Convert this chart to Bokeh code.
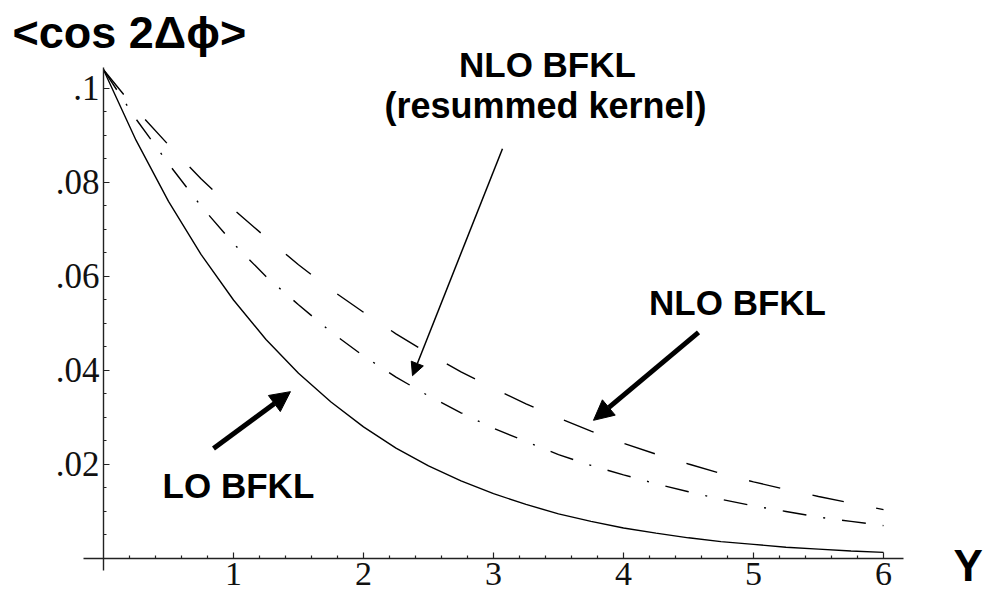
from bokeh.plotting import figure
from bokeh.models import FixedTicker, Label, Arrow, NormalHead, Range1d, LinearAxis
from bokeh.embed import file_html
from bokeh.resources import INLINE

# ---- data ----
rapidity = [0.0, 0.25, 0.5, 0.75, 1.0, 1.25, 1.5, 1.75, 2.0, 2.25, 2.5, 2.75, 3.0,
            3.25, 3.5, 3.75, 4.0, 4.25, 4.5, 4.75, 5.0, 5.25, 5.5, 5.75, 6.0]
lo_bfkl = [0.1040, 0.0890, 0.0760, 0.0647, 0.0550, 0.0466, 0.0394, 0.0333, 0.0280,
           0.0235, 0.0197, 0.0165, 0.0138, 0.0115, 0.0095, 0.0079, 0.0065, 0.0054,
           0.0044, 0.0036, 0.0030, 0.0024, 0.0020, 0.0016, 0.0013]
nlo_bfkl = [0.1040, 0.0955, 0.0880, 0.0808, 0.0743, 0.0683, 0.0625, 0.0572, 0.0524,
            0.0478, 0.0436, 0.0397, 0.0362, 0.0329, 0.0299, 0.0271, 0.0245, 0.0222,
            0.0201, 0.0181, 0.0163, 0.0147, 0.0132, 0.0118, 0.0104]
nlo_resummed = [0.1040, 0.0935, 0.0840, 0.0750, 0.0670, 0.0600, 0.0540, 0.0482, 0.0431,
                0.0386, 0.0346, 0.0310, 0.0277, 0.0249, 0.0221, 0.0198, 0.0178, 0.0159,
                0.0142, 0.0126, 0.0112, 0.0100, 0.0088, 0.0079, 0.0070]

x_ticks = [1, 2, 3, 4, 5, 6]
x_minor_ticks = [0.2, 0.4, 0.6, 0.8, 1.2, 1.4, 1.6, 1.8, 2.2, 2.4, 2.6, 2.8,
                 3.2, 3.4, 3.6, 3.8, 4.2, 4.4, 4.6, 4.8, 5.2, 5.4, 5.6, 5.8]
y_ticks = [0.02, 0.04, 0.06, 0.08, 0.1]
y_tick_labels = [".02", ".04", ".06", ".08", ".1"]
y_minor_ticks = [0.005, 0.01, 0.015, 0.025, 0.03, 0.035, 0.045, 0.05, 0.055,
                 0.065, 0.07, 0.075, 0.085, 0.09, 0.095]

AX = "#222222"

# the frame fills the whole canvas; axes sit at the origin inside it
p = figure(width=983, height=593, output_backend="svg", toolbar_location=None,
           x_range=Range1d(-0.7923, 6.7692), y_range=Range1d(-0.007447, 0.118723),
           x_axis_location=None, y_axis_location=None,
           min_border_left=0, min_border_right=0, min_border_top=0, min_border_bottom=0)
p.grid.visible = False
p.outline_line_color = None
p.background_fill_color = "white"
p.border_fill_color = "white"

xaxis = LinearAxis(fixed_location=0, bounds=(-0.154, 6.154),
                   ticker=FixedTicker(ticks=x_ticks, minor_ticks=x_minor_ticks))
yaxis = LinearAxis(fixed_location=0, bounds=(-0.00255, 0.1045),
                   ticker=FixedTicker(ticks=y_ticks, minor_ticks=y_minor_ticks),
                   major_label_overrides=dict(zip(y_ticks, y_tick_labels)))
for ax in (xaxis, yaxis):
    ax.axis_line_color = AX
    ax.axis_line_width = 1.4
    ax.major_tick_line_color = AX
    ax.minor_tick_line_color = AX
    ax.major_tick_line_width = 1.2
    ax.minor_tick_line_width = 1.2
    ax.major_tick_in = 6
    ax.major_tick_out = 0
    ax.minor_tick_in = 3
    ax.minor_tick_out = 0
    ax.major_label_text_font = "Liberation Serif"
    ax.major_label_text_color = "#111111"
xaxis.major_label_text_font_size = "34px"
xaxis.major_label_standoff = 5
yaxis.major_label_text_font_size = "35px"
yaxis.major_label_standoff = 4
p.add_layout(xaxis, "below")
p.add_layout(yaxis, "left")

p.line(rapidity, lo_bfkl, line_color="black", line_width=1.4)
p.line(rapidity, nlo_bfkl, line_color="black", line_width=1.4, line_dash="32 33")
p.line(rapidity, nlo_resummed, line_color="black", line_width=1.4, line_dash="24 17 2 17")

# arrows (annotation positions)
p.add_layout(Arrow(end=NormalHead(size=13, fill_color="black", line_color="black"),
                   x_start=3.069, y_start=0.0872, x_end=2.377, y_end=0.0389,
                   line_color="black", line_width=1.5))
p.add_layout(Arrow(end=NormalHead(size=20, fill_color="black", line_color="black"),
                   x_start=4.577, y_start=0.0481, x_end=3.769, y_end=0.0294,
                   line_color="black", line_width=5))
p.add_layout(Arrow(end=NormalHead(size=20, fill_color="black", line_color="black"),
                   x_start=0.846, y_start=0.0234, x_end=1.438, y_end=0.0355,
                   line_color="black", line_width=5))

def bold_label(x, y, text, size, align="center"):
    p.add_layout(Label(x=x, y=y, text=text, text_font="Liberation Sans",
                       text_font_style="bold", text_font_size=size,
                       text_align=align, text_baseline="middle", text_color="black"))

bold_label(-0.700, 0.1119, "<cos 2Δϕ>", "45px", align="left")
bold_label(3.415, 0.1051, "NLO BFKL", "35px")
bold_label(3.40, 0.0964, "(resummed kernel)", "36px")
bold_label(4.877, 0.0545, "NLO BFKL", "35px")
bold_label(1.038, 0.0155, "LO BFKL", "35px")
bold_label(6.538, -0.0015, "Y", "44px", align="left")

open("out.html", "w").write(file_html(p, INLINE))
